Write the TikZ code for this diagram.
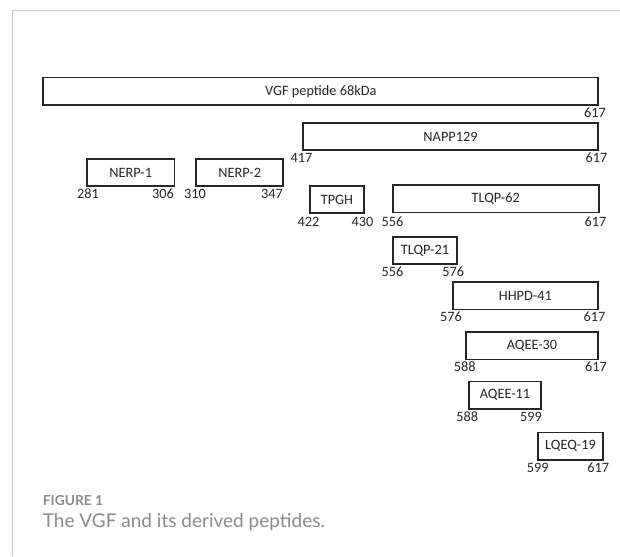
\documentclass[tikz,border=0pt]{standalone}
\usepackage{fontspec}
\setmainfont{Carlito}
\newfontfamily\capfont{Lato}
\definecolor{boxline}{HTML}{262626}
\definecolor{frame}{HTML}{CCCCCC}
\definecolor{capgray}{HTML}{8A8A8A}
\tikzset{
  pepbox/.style={draw=boxline, line width=1.8pt, inner sep=0pt, minimum height=27.5pt,
    text=boxline, font=\fontsize{14.3}{16}\selectfont},
  numlab/.style={inner sep=0pt, text=boxline, font=\fontsize{14.3}{16}\selectfont},
  framerule/.style={draw=frame, line width=1pt}
}
\begin{document}
\begin{tikzpicture}[x=1pt,y=-1pt]
\useasboundingbox (0,0) rectangle (620,556);
% frame
\coordinate (fa) at (12,556);
\coordinate (fb) at (12,11);
\coordinate (fc) at (620,11);
\draw[framerule] (fa) -- (fb) -- (fc);
% boxes
\node[pepbox, minimum width=555pt]   (vgf)    at (320.8,91.3)  {VGF peptide 68kDa};
\node[pepbox, minimum width=295.6pt] (napp)   at (450.5,136.5) {NAPP129};
\node[pepbox, minimum width=87.5pt]  (nerp1)  at (130.7,172.5) {NERP-1};
\node[pepbox, minimum width=87.3pt]  (nerp2)  at (239.7,172.5) {NERP-2};
\node[pepbox, minimum width=54pt]    (tpgh)   at (337,199.5)   {TPGH};
\node[pepbox, minimum width=206pt]   (tlqp62) at (495.7,198.8) {TLQP-62};
\node[pepbox, minimum width=64.6pt]  (tlqp21) at (425,250.5)   {TLQP-21};
\node[pepbox, minimum width=145.3pt] (hhpd)   at (525.3,295.7) {HHPD-41};
\node[pepbox, minimum width=132pt]   (aqee30) at (532,345.8)   {AQEE-30};
\node[pepbox, minimum width=72pt]    (aqee11) at (505,395.3)   {AQEE-11};
\node[pepbox, minimum width=64.4pt]  (lqeq)   at (570.5,446.3) {LQEQ-19};
% residue numbers
\node[numlab] (vgfR)    at (595,113)     {617};
\node[numlab] (nappL)   at (301.5,158)   {417};
\node[numlab] (nappR)   at (596.5,158)   {617};
\node[numlab] (nerp1L)  at (88,194)      {281};
\node[numlab] (nerp1R)  at (163,194)     {306};
\node[numlab] (nerp2L)  at (195,194)     {310};
\node[numlab] (nerp2R)  at (272,194)     {347};
\node[numlab] (tpghL)   at (308.5,221.5) {422};
\node[numlab] (tpghR)   at (362.5,221.5) {430};
\node[numlab] (tl62L)   at (392.5,221.5) {556};
\node[numlab] (tl62R)   at (595.5,221.5) {617};
\node[numlab] (tl21L)   at (392.5,272)   {556};
\node[numlab] (tl21R)   at (453.3,272)   {576};
\node[numlab] (hhpdL)   at (451,317)     {576};
\node[numlab] (hhpdR)   at (594.5,317)   {617};
\node[numlab] (aq30L)   at (464.7,367)   {588};
\node[numlab] (aq30R)   at (596,367)     {617};
\node[numlab] (aq11L)   at (467.2,417)   {588};
\node[numlab] (aq11R)   at (531,417)     {599};
\node[numlab] (lqeqL)   at (537.8,467.5) {599};
\node[numlab] (lqeqR)   at (598.3,467.5) {617};
% caption
\node[anchor=base west, inner sep=0pt, text=capgray, font=\capfont\bfseries\fontsize{13.8}{16}\selectfont] (figlab) at (42.7,505) {FIGURE 1};
\node[anchor=base west, inner sep=0pt, text=capgray, font=\capfont\fontsize{19}{22}\selectfont] (caption) at (42.7,527.5) {The VGF and its derived peptides.};
\end{tikzpicture}
\end{document}
